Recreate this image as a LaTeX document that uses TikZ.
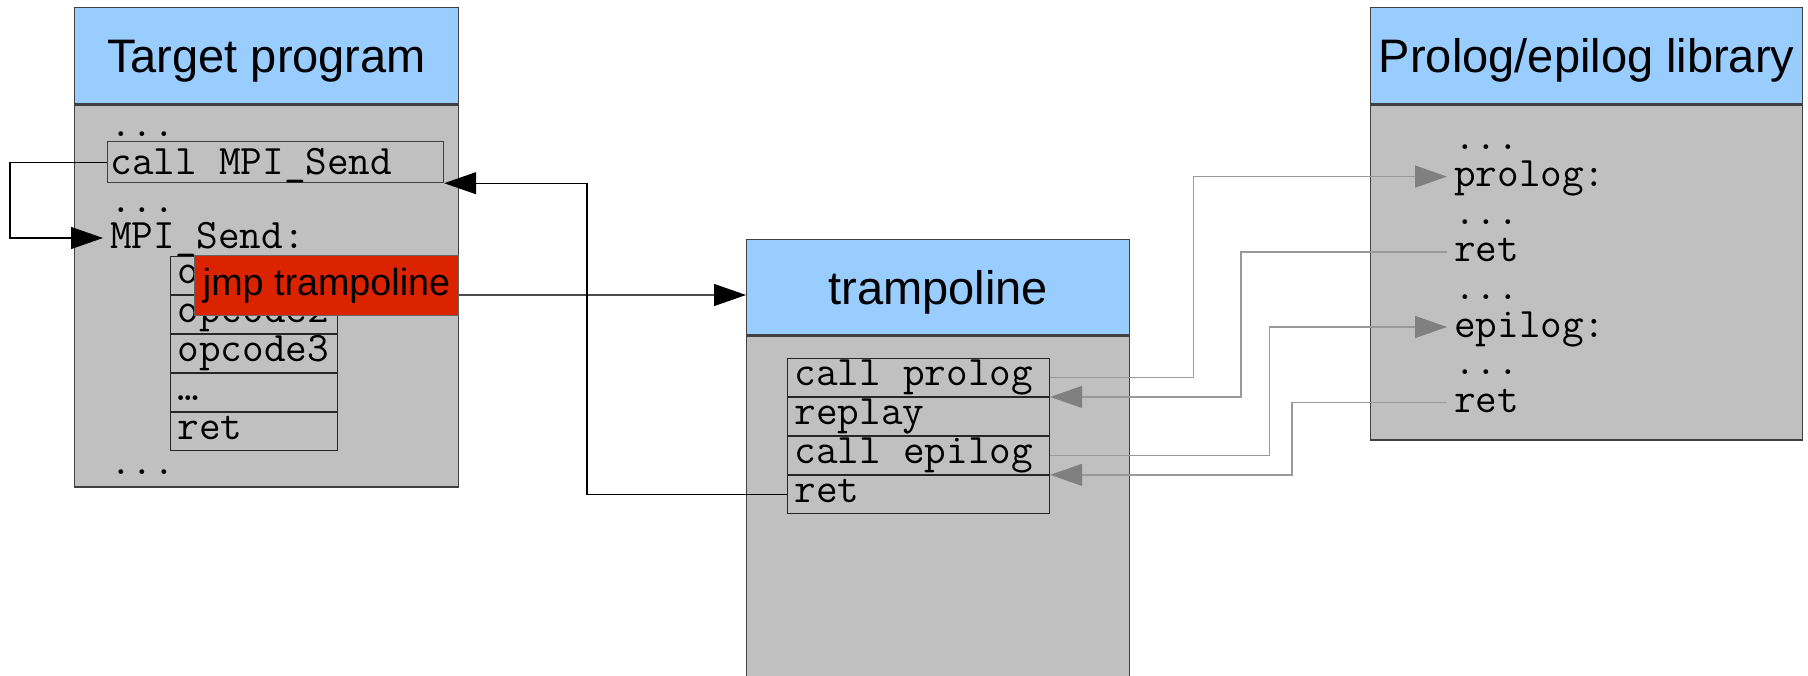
\documentclass[tikz,border=0pt]{standalone}
\usepackage{fontspec}
\setmainfont{Liberation Sans}
\usetikzlibrary{arrows.meta, positioning, calc}
\definecolor{headblue}{RGB}{153,204,255}
\definecolor{bodygray}{RGB}{192,192,192}
\definecolor{patchred}{RGB}{220,35,0}
% one monospace cell
\newcommand{\cspace}{\hspace*{0.525em}}

\begin{document}
\begin{tikzpicture}[x=1pt, y=-1pt,
  head/.style={draw=black!75, fill=headblue, line width=1.3pt, inner sep=0pt,
    text height=34pt, text depth=0pt, font=\fontsize{47}{56}\selectfont},
  body/.style={draw=black!75, fill=bodygray, line width=1.3pt, inner sep=0pt},
  codetext/.style={inner xsep=7pt, inner ysep=0pt, text height=22pt, text depth=2pt,
    font=\ttfamily\fontsize{42}{44}\selectfont},
  coderow/.style={codetext, draw=black!85, line width=1.2pt, text height=26pt, text depth=10pt,
    minimum height=37.75pt, align=left},
  flow/.style={draw=black, line width=1.2pt, -{Triangle[length=32pt, width=22pt, color=black]}},
  link/.style={draw=black!40, line width=1.4pt, -{Triangle[length=32pt, width=22pt, color=black!50]}}]

  % picture frame, pixel units (y grows downward)
  \useasboundingbox (0,0) rectangle (1808,675);
  \clip (0,0) rectangle (1808,675);

  % --- target program ---
  \node[head, minimum width=384pt, minimum height=96pt, anchor=north west] (tphead) at (74,7) {Target program};
  \node[body, minimum width=384pt, minimum height=382pt, below=0pt of tphead] (tpbody) {};

  \node[codetext, anchor=base west] (tpdots1) at (103,136) {...};
  \node[codetext, draw=black!75, line width=1.2pt, inner xsep=3pt, text height=30pt, text depth=5pt,
    minimum height=41pt, text width=330pt, align=left, anchor=north west] (callsend) at (107,141) {call\cspace MPI\_Send};
  \node[codetext, anchor=base west] (tpdots2) at (103,212) {...};
  \node[codetext, anchor=base west] (mpisend) at (103,248) {MPI\_Send:};

  % patched function body
  \node[coderow, text width=153pt, anchor=north west] (op1) at (170,256) {opcode1};
  \node[coderow, text width=153pt, below=0pt of op1] (op2) {opcode2};
  \node[coderow, text width=153pt, below=0pt of op2] (op3) {opcode3};
  \node[coderow, text width=153pt, below=0pt of op3] (opdots) {…};
  \node[coderow, text width=153pt, below=0pt of opdots] (opret) {ret};
  \node[codetext, anchor=base west] (tpdots3) at (103,474) {...};

  % the jump written over the first opcodes
  \node[fill=patchred, draw=black!60, line width=1pt, inner sep=0pt, minimum width=264pt, minimum height=60pt,
    text height=27pt, text depth=7pt, font=\fontsize{37.7}{44}\selectfont, anchor=north west] (jmp) at (194,255) {jmp trampoline};

  % --- trampoline ---
  \node[head, minimum width=383pt, minimum height=95pt, anchor=north west] (trhead) at (746,239) {trampoline};
  \node[body, minimum width=383pt, minimum height=345pt, below=0pt of trhead] (trbody) {};

  \node[coderow, text width=248pt, anchor=north west] (trcallpro) at (787,358) {call\cspace prolog};
  \node[coderow, text width=248pt, below=0pt of trcallpro] (trreplay) {replay};
  \node[coderow, text width=248pt, below=0pt of trreplay] (trcallepi) {call\cspace epilog};
  \node[coderow, text width=248pt, below=0pt of trcallepi] (trret) {ret};

  % --- prolog/epilog library ---
  \node[head, minimum width=432pt, minimum height=96pt, anchor=north west] (libhead) at (1370,7) {Prolog/epilog library};
  \node[body, minimum width=432pt, minimum height=335pt, below=0pt of libhead] (libbody) {};

  \node[codetext, anchor=base west] (libdots1) at (1447,149) {...};
  \node[codetext, anchor=base west] (libprolog) at (1447,186.6) {prolog:};
  \node[codetext, anchor=base west] (libdots2) at (1447,224.2) {...};
  \node[codetext, anchor=base west] (libret1) at (1447,261.8) {ret};
  \node[codetext, anchor=base west] (libdots3) at (1447,299.4) {...};
  \node[codetext, anchor=base west] (libepilog) at (1447,337) {epilog:};
  \node[codetext, anchor=base west] (libdots4) at (1447,374.6) {...};
  \node[codetext, anchor=base west] (libret2) at (1447,412.2) {ret};

  % --- control flow ---
  \draw[flow] (callsend.west) -- ++(-97,0) |- (mpisend.west);
  \coordinate (jmpout) at ([yshift=-9.5pt]jmp.east);
  \draw[flow, draw=black!70] (jmpout) -- (jmpout -| trhead.west);
  \draw[flow] (trret.west) -- ++(-200,0) |- (callsend.south east);

  % calls into the library and back
  \draw[link] (trcallpro.east) -- ++(143,0) |- (libprolog.west);
  \draw[link] (libret1.west) -- ++(-206,0) |- (trcallpro.south east);
  \draw[link] (trcallepi.east) -- ++(219,0) |- (libepilog.west);
  \draw[link] (libret2.west) -- ++(-155,0) |- (trcallepi.south east);
\end{tikzpicture}
\end{document}
